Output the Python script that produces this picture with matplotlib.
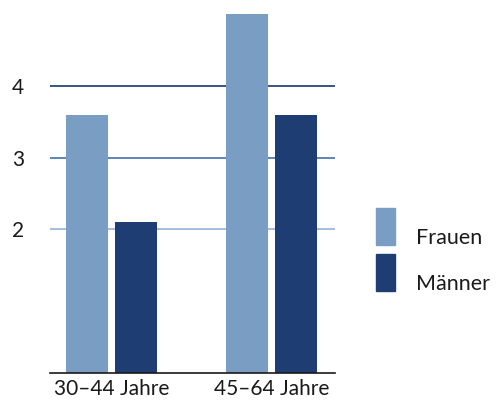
import matplotlib
matplotlib.use("Agg")
import matplotlib.pyplot as plt
from matplotlib.patches import Rectangle
import numpy as np

categories = ["30–44 Jahre", "45–64 Jahre"]
series_names = ["Frauen", "Männer"]
frauen = [3.6, 5.0]
maenner = [2.1, 3.6]
yticks = [2, 3, 4]
ytick_labels = ["2", "3", "4"]

c_light = "#7A9DC3"
c_dark = "#1E3D73"
grid_colors = {2: "#9DB9DA", 3: "#4F7DB3", 4: "#27477D"}

plt.rcParams['font.family'] = ['Lato', 'DejaVu Sans']
fs = 15

fig = plt.figure(figsize=(4.96, 4.05), dpi=100)
ax = fig.add_axes([50/496, 1 - 373/405, (335-50)/496, (373-14)/405])

x = np.arange(len(categories))
w = 0.2625
off = 0.153
for yv in yticks:
    ax.axhline(yv, color=grid_colors[yv], lw=1.3, zorder=1)
ax.bar(x - off, frauen, width=w, color=c_light, zorder=2)
ax.bar(x + off, maenner, width=w, color=c_dark, zorder=2)

ax.set_xlim(-0.384, 1.397)
ax.set_ylim(0, 5.0)
ax.set_yticks(yticks)
ax.set_yticklabels(ytick_labels)
ax.set_xticks(x)
ax.set_xticklabels(categories)
ax.tick_params(axis='both', length=0, labelsize=fs, colors="#1a1a1a")
ax.tick_params(axis='y', pad=23)
ax.tick_params(axis='x', pad=4)
for lab in ax.get_yticklabels():
    lab.set_horizontalalignment('center')
for s in ["top", "right", "left"]:
    ax.spines[s].set_visible(False)
ax.spines["bottom"].set_color("#1a1a1a")
ax.spines["bottom"].set_linewidth(1.2)

# legend
W, H = 496, 405
for i, (name, col) in enumerate(zip(series_names, [c_light, c_dark])):
    top = 208 + i * 46
    fig.add_artist(Rectangle((376/W, 1 - (top+37)/H), 19/W, 37/H,
                             transform=fig.transFigure, color=col))
    fig.text(416/W, 1 - (top+30)/H, name, fontsize=fs + 0.5, color="#1a1a1a",
             va='center', ha='left')

fig.savefig("out.png", dpi=100)
